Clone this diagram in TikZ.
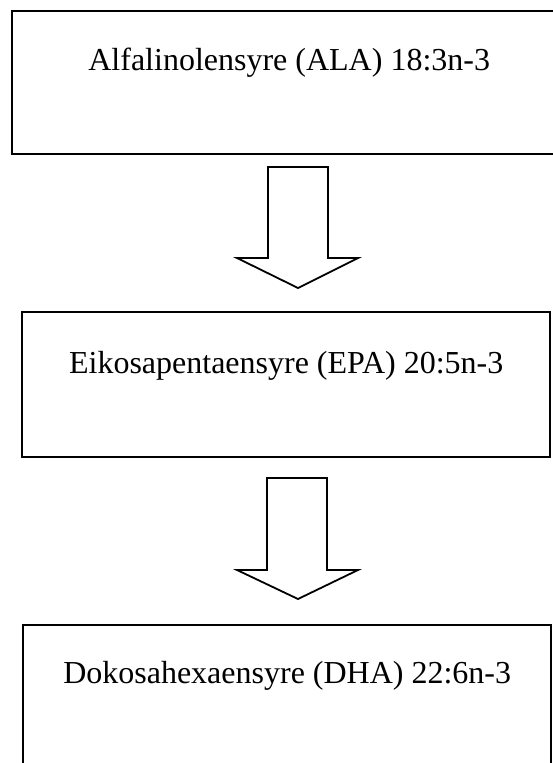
\documentclass[tikz,border=0pt]{standalone}
\usepackage{fontspec}
\setmainfont{Liberation Serif}
\begin{document}
\begin{tikzpicture}[x=1pt,y=-1pt,
  stagebox/.style={draw=black, line width=2.4pt, rectangle, anchor=north west, inner sep=0pt},
  stagelabel/.style={anchor=base, inner sep=0pt, font=\fontsize{32}{38}\selectfont},
  blockarrow/.style={draw=black, line width=1.8pt, fill=white, line join=miter}]
\useasboundingbox (0,0) rectangle (552,763);
% boxes
\node[stagebox, minimum width=554pt, minimum height=143pt] (ala) at (11,10) {};
\node[stagelabel] (alat) at ([yshift=-60pt]ala.north) {Alfalinolensyre (ALA) 18:3n-3};
\node[stagebox, minimum width=528pt, minimum height=145pt] (epa) at (21,311) {};
\node[stagelabel] (epat) at ([yshift=-62pt]epa.north) {Eikosapentaensyre (EPA) 20:5n-3};
\node[stagebox, minimum width=528pt, minimum height=150pt] (dha) at (22,624) {};
\node[stagelabel] (dhat) at ([yshift=-59pt]dha.north) {Dokosahexaensyre (DHA) 22:6n-3};
% block arrows
\coordinate (a1) at (298,167);
\coordinate (a2) at (297,478);
\draw[blockarrow] ([xshift=-30pt]a1) -- ([xshift=-30pt,yshift=-91pt]a1) -- ([xshift=-61pt,yshift=-91pt]a1)
  -- ([yshift=-121pt]a1) -- ([xshift=60pt,yshift=-91pt]a1) -- ([xshift=30pt,yshift=-91pt]a1)
  -- ([xshift=30pt]a1) -- cycle;
\draw[blockarrow] ([xshift=-30pt]a2) -- ([xshift=-30pt,yshift=-92pt]a2) -- ([xshift=-60pt,yshift=-92pt]a2)
  -- ([xshift=1pt,yshift=-121pt]a2) -- ([xshift=61pt,yshift=-92pt]a2) -- ([xshift=30pt,yshift=-92pt]a2)
  -- ([xshift=30pt]a2) -- cycle;
\end{tikzpicture}
\end{document}
